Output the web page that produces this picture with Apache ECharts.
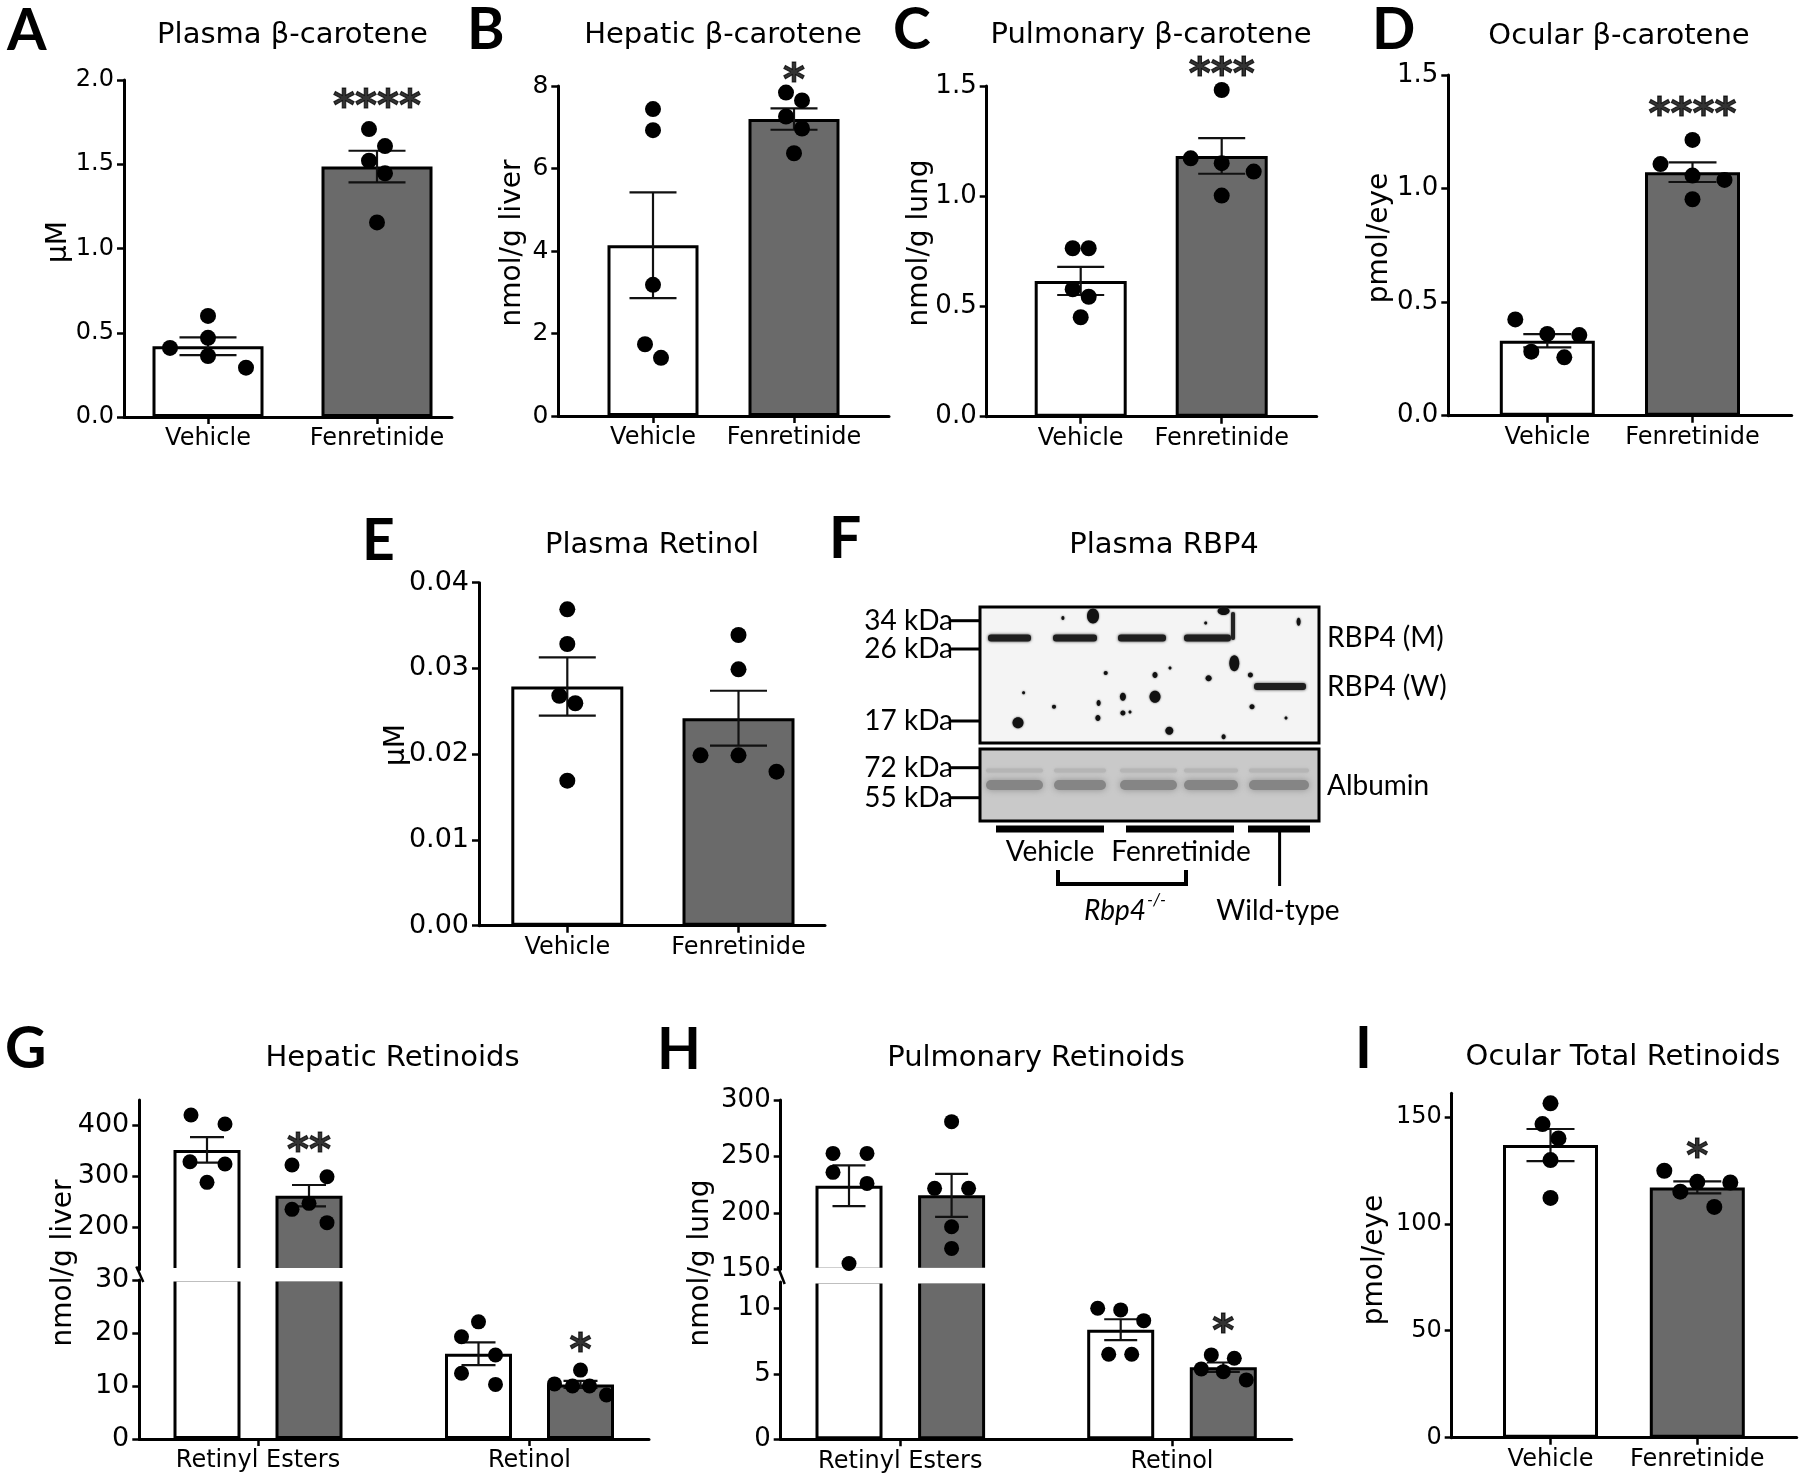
<!DOCTYPE html>
<html>
<head>
<meta charset="utf-8">
<script src="https://cdn.jsdelivr.net/npm/echarts@6/dist/echarts.min.js"></script>
<style>
html,body{margin:0;padding:0;background:#fff;}
#c{width:1800px;height:1483px;}
</style>
</head>
<body>
<div id="c"></div>
<script>
// ================= DATA =================
const groupCats = ['Vehicle', 'Fenretinide'];
const retinoidCats = ['Retinyl Esters', 'Retinol'];

// A  Plasma β-carotene (μM)
const aMean = [0.42, 1.486];
const aSem = [0.053, 0.094];
const aVehicle = [0.41, 0.60, 0.47, 0.362, 0.293];
const aFenretinide = [1.709, 1.608, 1.521, 1.446, 1.155];
const aStarText = '****';
const aStarY = 1.89;

// B  Hepatic β-carotene (nmol/g liver)
const bMean = [4.14, 7.2];
const bSem = [1.28, 0.26];
const bVehicle = [7.44, 6.93, 3.18, 1.74, 1.41];
const bFenretinide = [7.84, 7.65, 7.26, 6.97, 6.37];
const bStarText = '*';
const bStarY = 8.33;

// C  Pulmonary β-carotene (nmol/g lung)
const cMean = [0.616, 1.183];
const cSem = [0.064, 0.081];
const cVehicle = [0.764, 0.764, 0.578, 0.544, 0.451];
const cFenretinide = [1.482, 1.172, 1.15, 1.112, 1.003];
const cStarText = '***';
const cStarY = 1.59;

// D  Ocular β-carotene (pmol/eye)
const dMean = [0.330, 1.072];
const dSem = [0.029, 0.043];
const dVehicle = [0.424, 0.36, 0.355, 0.282, 0.257];
const dFenretinide = [1.214, 1.108, 1.057, 1.038, 0.953];
const dStarText = '****';
const dStarY = 1.364;

// E  Plasma Retinol (μM)
const eMean = [0.0279, 0.0242];
const eSem = [0.0034, 0.0032];
const eVehicle = [0.0369, 0.03285, 0.02682, 0.02594, 0.01691];
const eFenretinide = [0.0339, 0.0299, 0.01987, 0.01987, 0.01796];

// G  Hepatic Retinoids (nmol/g liver) — index 0: Retinyl Esters, 1: Retinol
const gVehMean = [352, 16.1];
const gVehSem = [25, 2.15];
const gFenMean = [262, 10.3];
const gFenSem = [21, 0.65];
const gVehEsters = [420.5, 402.8, 328.8, 324.3, 288.2];
const gFenEsters = [322.3, 299.3, 235.2, 247, 209];
const gVehRetinol = [22.1, 19.3, 15.85, 12.4, 10.3];
const gFenRetinol = [13.0, 10.4, 10.0, 10.0, 8.3];
const gStarText = ['**', '*'];
const gStarY = [367.5, 18.3];

// H  Pulmonary Retinoids (nmol/g lung)
const hVehMean = [224, 8.36];
const hVehSem = [18, 0.8];
const hFenMean = [215.5, 5.5];
const hFenSem = [19, 0.36];
const hVehEsters = [252.7, 252.7, 235.9, 226.1, 155.2];
const hFenEsters = [280.8, 221.7, 221.7, 187.7, 168.5];
const hVehRetinol = [10.0, 9.87, 9.05, 6.49, 6.49];
const hFenRetinol = [6.44, 6.18, 5.37, 5.16, 4.53];
const hStarText = '*';
const hStarY = 8.88;

// I  Ocular Total Retinoids (pmol/eye)
const iMean = [136.8, 117];
const iSem = [7.5, 2.8];
const iVehicle = [156.3, 146.6, 139.9, 129.8, 112.1];
const iFenretinide = [124.8, 119.6, 119.3, 115, 107.9];
const iStarText = '*';
const iStarY = 135.4;

// tick labels
const aTicks = [0, 0.5, 1, 1.5, 2];
const bTicks = [0, 2, 4, 6, 8];
const cTicks = [0, 0.5, 1, 1.5];
const dTicks = [0, 0.5, 1, 1.5];
const eTicks = [0, 0.01, 0.02, 0.03, 0.04];
const gTicksUpper = [200, 300, 400];
const gTicksLower = [0, 10, 20, 30];
const hTicksUpper = [150, 200, 250, 300];
const hTicksLower = [0, 5, 10];
const iTicks = [0, 50, 100, 150];

// ================= LAYOUT / STYLE =================
// horizontal spread of dots (pixels), GraphPad-like scatter layout
const aVehJit = [-38, 0, 0, 0, 38], aFenJit = [-8, 8, -8, 8, 0];
const bVehJit = [0, 0, 0, -8, 8], bFenJit = [-8, 8, -8, 8, 0];
const cVehJit = [-8, 8, -8, 8, 0], cFenJit = [0, -31, 0, 32, 0];
const dVehJit = [-32, 0, 32, -16, 17], dFenJit = [0, -32, 0, 32, 0];
const eVehJit = [0, 0, -8, 8, 0], eFenJit = [0, 0, -38, 0, 38];
const gJit = [[-16, 18, -17, 18, 0], [-17, 18, -17, 0, 18], [0, -17, 17, -17, 17], [0, -26, -8, 9, 26]];
const hJit = [[-16, 18, -16, 18, 0], [0, -17, 17, 0, 0], [-23, 0, 23, -12, 11], [-12, 11, -22, 0, 23]];
const iVehJit = [0, -8, 8, 0, 0], iFenJit = [-33, 0, 33, -17, 17];

const FONT = 'DejaVu Sans';
const WHITE = '#ffffff';
const GREY = '#6a6a6a';
const DOT = 16;

const grids = [], xAxes = [], yAxes = [], series = [], els = [];

function addGrid(cfg) {
  const gi = grids.length;
  const u = cfg.c1 - cfg.c0;
  grids.push({left: cfg.L, top: cfg.T, width: cfg.R - cfg.L, height: cfg.B - cfg.T,
    containLabel: false, outerBoundsMode: 'none'});
  xAxes.push({
    type: 'value', gridIndex: gi, min: (cfg.L - cfg.c0) / u, max: 1 + (cfg.R - cfg.c1) / u,
    show: cfg.showX !== false,
    axisLine: {show: true, onZero: false, lineStyle: {color: '#000', width: 3}},
    axisTick: {show: true, length: 7, inside: false, lineStyle: {color: '#000', width: 2.5}, customValues: [0, 1]},
    axisLabel: {show: true, customValues: [0, 1], formatter: v => cfg.cats[Math.round(v)],
      fontFamily: FONT, fontSize: 24, color: '#000', margin: 10},
    splitLine: {show: false}
  });
  yAxes.push({
    type: 'value', gridIndex: gi, min: cfg.yMin, max: cfg.yMax,
    axisLine: {show: true, onZero: false, lineStyle: {color: '#000', width: 3}},
    axisTick: {show: true, length: 7, inside: false, lineStyle: {color: '#000', width: 2.5}, customValues: cfg.ticks},
    axisLabel: {show: true, customValues: cfg.ticks, formatter: cfg.fmt, fontFamily: FONT,
      fontSize: cfg.tickFont, color: '#000', margin: 10},
    splitLine: {show: false}
  });
  return {gi, u};
}

function addBars(gi, items, bw) {
  series.push({type: 'bar', xAxisIndex: gi, yAxisIndex: gi, barWidth: bw, z: 2, silent: true, clip: true,
    data: items.map(d => ({value: [d[0], d[1]], itemStyle: {color: d[2], borderColor: '#000', borderWidth: 3}}))});
}
function addErr(gi, items, cap) {
  series.push({type: 'custom', xAxisIndex: gi, yAxisIndex: gi, z: 4, silent: true,
    data: items.map(d => [d[0], d[1] - d[2], d[1] + d[2]]),
    encode: {x: 0, y: [1, 2]},
    renderItem: (params, api) => {
      const x = api.value(0);
      const p1 = api.coord([x, api.value(2)]);
      const p2 = api.coord([x, api.value(1)]);
      const st = {stroke: '#111', lineWidth: 2.2};
      return {type: 'group', children: [
        {type: 'line', shape: {x1: p1[0], y1: p1[1], x2: p2[0], y2: p2[1]}, style: st},
        {type: 'line', shape: {x1: p1[0] - cap / 2, y1: p1[1], x2: p1[0] + cap / 2, y2: p1[1]}, style: st},
        {type: 'line', shape: {x1: p2[0] - cap / 2, y1: p2[1], x2: p2[0] + cap / 2, y2: p2[1]}, style: st}
      ]};
    }});
}
function addDots(gi, pts, size) {
  series.push({type: 'scatter', xAxisIndex: gi, yAxisIndex: gi, z: 5, silent: true, symbol: 'circle', clip: false,
    symbolSize: size, itemStyle: {color: '#000', opacity: 1}, data: pts});
}
function addStars(gi, items) {
  series.push({type: 'scatter', xAxisIndex: gi, yAxisIndex: gi, z: 6, silent: true, symbol: 'circle', clip: false,
    symbolSize: 1, itemStyle: {color: 'rgba(0,0,0,0)'},
    label: {show: true, position: 'inside', formatter: '{b}', fontFamily: FONT, fontWeight: 'bold',
      fontSize: 42, color: '#000', textBorderColor: '#000', textBorderWidth: 1.1, offset: [0, 11]},
    data: items.map(d => ({name: d[2], value: [d[0], d[1]]}))});
}
function spread(cat, vals, jit, u) { return vals.map((v, i) => [cat + jit[i] / u, v]); }

function simplePanel(cfg, mean, sem, veh, fen, vj, fj, star) {
  const {gi, u} = addGrid(Object.assign({cats: groupCats}, cfg));
  addBars(gi, [[0, mean[0], WHITE], [1, mean[1], GREY]], cfg.bw);
  addErr(gi, [[0, mean[0], sem[0]], [1, mean[1], sem[1]]], cfg.cap);
  addDots(gi, spread(0, veh, vj, u).concat(spread(1, fen, fj, u)), DOT);
  if (star) addStars(gi, [[1, star[1], star[0]]]);
}

const f1 = v => v.toFixed(1), f2 = v => v.toFixed(2), f0 = v => String(Math.round(v));

simplePanel({L: 124, R: 452, T: 80, B: 417, c0: 208, c1: 377, yMin: 0, yMax: 2, ticks: aTicks, fmt: f1, tickFont: 24, bw: 111, cap: 57},
  aMean, aSem, aVehicle, aFenretinide, aVehJit, aFenJit, [aStarText, aStarY]);
simplePanel({L: 558.3, R: 889, T: 86, B: 416, c0: 653, c1: 794, yMin: 0, yMax: 8, ticks: bTicks, fmt: f0, tickFont: 25, bw: 91, cap: 47},
  bMean, bSem, bVehicle, bFenretinide, bVehJit, bFenJit, [bStarText, bStarY]);
simplePanel({L: 986.7, R: 1316.7, T: 86, B: 416.7, c0: 1080.7, c1: 1221.7, yMin: 0, yMax: 1.5, ticks: cTicks, fmt: f1, tickFont: 26, bw: 92, cap: 47},
  cMean, cSem, cVehicle, cFenretinide, cVehJit, cFenJit, [cStarText, cStarY]);
simplePanel({L: 1448.3, R: 1791.7, T: 75, B: 415.7, c0: 1547.3, c1: 1692.5, yMin: 0, yMax: 1.5, ticks: dTicks, fmt: f1, tickFont: 26, bw: 95, cap: 48},
  dMean, dSem, dVehicle, dFenretinide, dVehJit, dFenJit, [dStarText, dStarY]);
simplePanel({L: 479, R: 825, T: 582.7, B: 925.7, c0: 567.3, c1: 738.5, yMin: 0, yMax: 0.04, ticks: eTicks, fmt: f2, tickFont: 27, bw: 112, cap: 57},
  eMean, eSem, eVehicle, eFenretinide, eVehJit, eFenJit, null);
simplePanel({L: 1451.7, R: 1796.7, T: 1093.3, B: 1437.7, c0: 1550.5, c1: 1697.3, yMin: 0, yMax: 161, ticks: iTicks, fmt: f0, tickFont: 24, bw: 95, cap: 48},
  iMean, iSem, iVehicle, iFenretinide, iVehJit, iFenJit, [iStarText, iStarY]);

// broken-axis panels (G, H)
function brokenPanel(cfg, vehMean, vehSem, fenMean, fenSem, vehE, fenE, vehR, fenR, jit, stars) {
  const base = {L: cfg.L, R: cfg.R, c0: cfg.c0, c1: cfg.c1, cats: retinoidCats, fmt: f0, tickFont: cfg.tickFont};
  const up = addGrid(Object.assign({}, base, {T: cfg.T, B: cfg.gapTop, yMin: cfg.upMin, yMax: cfg.upMax, ticks: cfg.upTicks, showX: false}));
  const lo = addGrid(Object.assign({}, base, {T: cfg.gapBot, B: cfg.B, yMin: 0, yMax: cfg.loMax, ticks: cfg.loTicks}));
  const o = cfg.off / up.u;
  // upper: retinyl esters
  addBars(up.gi, [[-o, vehMean[0], WHITE], [o, fenMean[0], GREY]], cfg.bw);
  addErr(up.gi, [[-o, vehMean[0], vehSem[0]], [o, fenMean[0], fenSem[0]]], cfg.cap);
  addDots(up.gi, spread(-o, vehE, jit[0], up.u).concat(spread(o, fenE, jit[1], up.u)), 15);
  // lower: all bars (esters clipped), retinol details
  addBars(lo.gi, [[-o, vehMean[0], WHITE], [o, fenMean[0], GREY], [1 - o, vehMean[1], WHITE], [1 + o, fenMean[1], GREY]], cfg.bw);
  addErr(lo.gi, [[1 - o, vehMean[1], vehSem[1]], [1 + o, fenMean[1], fenSem[1]]], cfg.cap);
  addDots(lo.gi, spread(1 - o, vehR, jit[2], lo.u).concat(spread(1 + o, fenR, jit[3], lo.u)), 15);
  stars.forEach(s => addStars(s.upper ? up.gi : lo.gi, [[s.cat + o, s.y, s.text]]));
  // white gap of the broken axis
  els.push({type: 'rect', z: 3, silent: true,
    shape: {x: cfg.L + 2, y: cfg.gapTop - 1.6, width: cfg.R - cfg.L, height: cfg.gapBot - cfg.gapTop + 3.2},
    style: {fill: '#fff'}});
  els.push({type: 'line', z: 3, silent: true,
    shape: {x1: cfg.L - 3, y1: cfg.gapTop - 3, x2: cfg.L + 4, y2: cfg.gapBot + 2},
    style: {stroke: '#000', lineWidth: 2.5}});
}

brokenPanel({L: 139.3, R: 649, T: 1100, B: 1439, gapTop: 1269.5, gapBot: 1280, c0: 258, c1: 529.5,
  upMin: 117, upMax: 450, upTicks: gTicksUpper, loMax: 30, loTicks: gTicksLower, off: 51, bw: 67, cap: 34, tickFont: 27},
  gVehMean, gVehSem, gFenMean, gFenSem, gVehEsters, gFenEsters, gVehRetinol, gFenRetinol, gJit,
  [{upper: true, cat: 0, y: gStarY[0], text: gStarText[0]}, {upper: false, cat: 1, y: gStarY[1], text: gStarText[1]}]);

brokenPanel({L: 780.7, R: 1291.7, T: 1100, B: 1439.3, gapTop: 1269.3, gapBot: 1282, c0: 900.3, c1: 1172,
  upMin: 150, upMax: 300, upTicks: hTicksUpper, loMax: 12, loTicks: hTicksLower, off: 51.3, bw: 67, cap: 33, tickFont: 26},
  hVehMean, hVehSem, hFenMean, hFenSem, hVehEsters, hFenEsters, hVehRetinol, hFenRetinol, hJit,
  [{upper: false, cat: 1, y: hStarY, text: hStarText}]);

// ================= TEXT =================
function txt(x, y, text, st, extra) {
  const style = Object.assign({text: text, fill: '#000', fontFamily: FONT, fontSize: 29, fontWeight: 'normal',
    align: 'center', verticalAlign: 'middle', textAlign: 'center', textVerticalAlign: 'middle'}, st || {});
  if (style.align) style.textAlign = style.align;
  els.push(Object.assign({type: 'text', x: x, y: y, z: 10, silent: true, style: style}, extra || {}));
}
// panel letters
[['A', 7, 32], ['B', 467, 31], ['C', 893, 31], ['D', 1372, 31], ['E', 362, 542], ['F', 829, 540],
 ['G', 5, 1050], ['H', 657, 1051], ['I', 1355, 1050]].forEach(l =>
  txt(l[1], l[2], l[0], {fontFamily: 'Lato', fontWeight: 'bold', fontSize: 57, align: 'left'}));
// titles
[['Plasma β-carotene', 292.5, 35], ['Hepatic β-carotene', 723, 35], ['Pulmonary β-carotene', 1151, 35],
 ['Ocular β-carotene', 1619, 36], ['Plasma Retinol', 652, 545], ['Plasma RBP4', 1164, 545],
 ['Hepatic Retinoids', 392.5, 1058], ['Pulmonary Retinoids', 1036, 1058], ['Ocular Total Retinoids', 1623, 1057]]
 .forEach(t => txt(t[1], t[2], t[0], {fontSize: 29}));
// y-axis names
[['μM', 59, 242], ['nmol/g liver', 513, 243], ['nmol/g lung', 920, 243], ['pmol/eye', 1380, 238],
 ['μM', 397, 745], ['nmol/g liver', 64, 1263], ['nmol/g lung', 701, 1263], ['pmol/eye', 1375, 1260]]
 .forEach(t => txt(t[1], t[2], t[0], {fontSize: 28}, {rotation: Math.PI / 2}));

// ================= F: western blot (drawn) =================
const LATO = 'Lato';
els.push({type: 'rect', z: 8, silent: true, shape: {x: 980, y: 607, width: 339, height: 136}, style: {fill: '#f4f4f4', stroke: '#000', lineWidth: 3}});
els.push({type: 'rect', z: 8, silent: true, shape: {x: 980, y: 749, width: 339, height: 72}, style: {fill: '#c9c9c9', stroke: '#000', lineWidth: 3}});
// RBP4 (M) bands
[[988, 1031], [1053, 1097], [1118, 1166], [1184, 1231]].forEach(b =>
  els.push({type: 'rect', z: 9, silent: true, shape: {x: b[0], y: 634.5, width: b[1] - b[0], height: 7, r: 3},
    style: {fill: '#1e1e1e', shadowBlur: 3, shadowColor: '#333'}}));
// RBP4 (W) band
els.push({type: 'rect', z: 9, silent: true, shape: {x: 1254, y: 683, width: 52, height: 7, r: 3},
  style: {fill: '#1e1e1e', shadowBlur: 3, shadowColor: '#333'}});
// vertical smear
els.push({type: 'rect', z: 9, silent: true, shape: {x: 1231, y: 612, width: 4, height: 28, r: 2}, style: {fill: '#222', shadowBlur: 2, shadowColor: '#333'}});
// spots
[[1093, 616, 6, 7.5], [1018, 722.7, 5.5, 5.5], [1155, 696.7, 5.5, 6], [1234.3, 663.3, 5, 8], [1169.3, 730.7, 4, 4],
 [1223.6, 611, 6, 4], [1208.6, 678.3, 3, 3], [1298.6, 621.7, 2, 4], [1250.4, 675, 2.5, 2.5], [1252, 706.7, 2.5, 2.5],
 [1155, 675, 2.5, 3], [1122.9, 696.7, 3, 4], [1122.9, 713, 2.5, 2.5], [1098.6, 703, 2, 3], [1097.9, 718, 2.5, 3],
 [1054, 706.7, 2, 2], [1062.9, 618, 1.5, 2], [1105.7, 673, 2, 2], [1223.6, 736.7, 2, 2.5], [1023.6, 692.7, 1.5, 1.5],
 [1286, 718, 1.5, 1.5], [1205.7, 623, 1.5, 1.5], [1130, 712, 1.5, 1.5], [1170, 668, 1.5, 1.5]]
 .forEach(s => els.push({type: 'ellipse', z: 9, silent: true, shape: {cx: s[0], cy: s[1], rx: s[2], ry: s[3]},
   style: {fill: '#111', shadowBlur: 2, shadowColor: '#444'}}));
// albumin bands
[[986, 1043], [1054, 1106], [1120, 1177], [1184, 1238], [1249, 1309]].forEach(b => {
  els.push({type: 'rect', z: 9, silent: true, shape: {x: b[0], y: 768.5, width: b[1] - b[0], height: 4, r: 2},
    style: {fill: '#b5b5b5', shadowBlur: 3, shadowColor: '#b5b5b5'}});
  els.push({type: 'rect', z: 9, silent: true, shape: {x: b[0], y: 780, width: b[1] - b[0], height: 10, r: 5},
    style: {fill: '#858585', shadowBlur: 7, shadowColor: '#8f8f8f'}});
});
// molecular weight markers
[['34 kDa', 620.7], ['26 kDa', 649], ['17 kDa', 721], ['72 kDa', 767.7], ['55 kDa', 797.7]].forEach(m => {
  txt(953, m[1], m[0], {fontFamily: LATO, fontSize: 28, align: 'right'});
  els.push({type: 'line', z: 9, silent: true, shape: {x1: 950, y1: m[1], x2: 980, y2: m[1]}, style: {stroke: '#000', lineWidth: 3}});
});
// right labels
txt(1327, 638, 'RBP4 (M)', {fontFamily: LATO, fontSize: 28, align: 'left'});
txt(1327, 687, 'RBP4 (W)', {fontFamily: LATO, fontSize: 28, align: 'left'});
txt(1327, 786, 'Albumin', {fontFamily: LATO, fontSize: 28, align: 'left'});
// lane group bars
[[996, 1104], [1126, 1234], [1248, 1310]].forEach(b =>
  els.push({type: 'rect', z: 9, silent: true, shape: {x: b[0], y: 825.5, width: b[1] - b[0], height: 7}, style: {fill: '#000'}}));
txt(1050, 852, 'Vehicle', {fontFamily: LATO, fontSize: 28});
txt(1181, 852, 'Fenretinide', {fontFamily: LATO, fontSize: 28});
els.push({type: 'polyline', z: 9, silent: true, shape: {points: [[1058, 870], [1058, 884], [1186, 884], [1186, 870]]},
  style: {stroke: '#000', lineWidth: 4, fill: null}});
els.push({type: 'line', z: 9, silent: true, shape: {x1: 1279.6, y1: 832, x2: 1279.6, y2: 886}, style: {stroke: '#000', lineWidth: 3}});
txt(1084, 911, 'Rbp4', {fontFamily: LATO, fontSize: 28, fontStyle: 'italic', align: 'left'});
txt(1147, 901, '-/-', {fontFamily: LATO, fontSize: 17, fontStyle: 'italic', align: 'left'});
txt(1278, 911, 'Wild-type', {fontFamily: LATO, fontSize: 28});

// ================= CHART =================
const chart = echarts.init(document.getElementById('c'), null, {renderer: 'canvas', width: 1800, height: 1483});
chart.setOption({
  animation: false,
  backgroundColor: '#ffffff',
  textStyle: {fontFamily: FONT, color: '#000'},
  grid: grids,
  xAxis: xAxes,
  yAxis: yAxes,
  series: series,
  graphic: {elements: els}
});
</script>
</body>
</html>
